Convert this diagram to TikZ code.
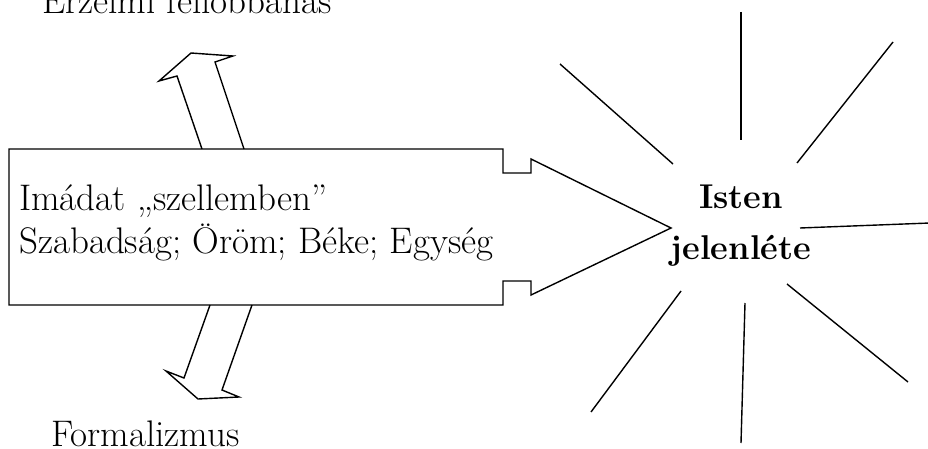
\documentclass[tikz,border=0pt]{standalone}
\usetikzlibrary{positioning}
\tikzset{
	box text/.style={font=\fontsize{37}{44}\selectfont,inner sep=0pt},
	sun text/.style={inner sep=0pt,font=\fontsize{34.4}{40}\selectfont\bfseries},
	outline/.style={draw,line width=1.4pt,line join=miter},
	ray/.style={draw,line width=1.4pt}
}
\begin{document}
\begin{tikzpicture}[x=1pt,y=-1pt]
	\useasboundingbox (0,0) rectangle (928,449);
	% the big arrow
	\draw[outline] (9,149) -- (503,149) -- (503,173) -- (531,173) -- (531,159)
		-- (671,228) -- (531,295) -- (531,281) -- (503,281) -- (503,305)
		-- (9,305) -- cycle;
	% up and down
	\draw[outline] (202,149) -- (177,76) -- (159,81) -- (191,53) -- (233,56) -- (215,62) -- (244,149);
	\draw[outline] (210,305) -- (184,378) -- (166,371) -- (198,399) -- (239,397) -- (222,390) -- (252,305);
	% rays
	\foreach \xa/\ya/\xb/\yb in {741/12/741/140, 893/42/797/163, 800/228/930/223,
		787/284/908/382, 745/303/741/443, 681/291/591/412, 560/64/673/164}
		\draw[ray] (\xa,\ya) -- (\xb,\yb);
	\node[box text,anchor=base west] (imadat) at (19,210) {Imádat „szellemben”};
	\node[box text,anchor=base west] (szabadsag) at ([yshift=-43pt]imadat.base west) {Szabadság; Öröm; Béke; Egység};
	\node[box text,anchor=base west] (erzelmi) at (42,14) {Érzelmi fellobbanás};
	\node[box text,anchor=base west] (formalizmus) at (51,446) {Formalizmus};
	\node[sun text,anchor=base] (isten) at (741,208) {Isten};
	\node[sun text,anchor=base] (jelenlete) at ([yshift=-51pt]isten.base) {jelenléte};
\end{tikzpicture}
\end{document}
